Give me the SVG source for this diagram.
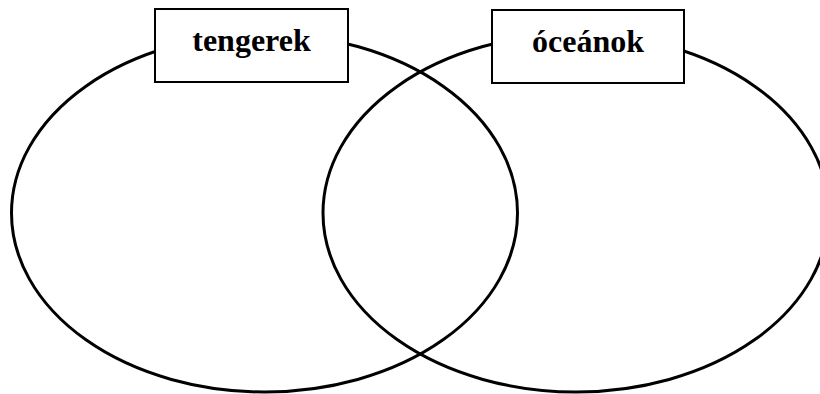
<svg xmlns="http://www.w3.org/2000/svg" width="820" height="394" viewBox="0 0 820 394">
<style>
.ell{fill:none;stroke:#000;stroke-width:3}
.box{fill:#fff;stroke:#000;stroke-width:2}
.lbl{font-family:"Liberation Serif","Times New Roman",serif;font-weight:bold;font-size:32px;fill:#000;text-anchor:middle}
</style>
<rect width="820" height="394" fill="#fff"/>
<g id="connectors"></g>
<g id="ellipse-left"><ellipse class="ell" cx="264.5" cy="213" rx="253" ry="179"/></g>
<g id="ellipse-right"><ellipse class="ell" cx="576" cy="213" rx="253" ry="179"/></g>
<g id="label-tengerek"><rect class="box" x="155" y="9" width="193" height="73"/><text class="lbl" x="251.5" y="51">tengerek</text></g>
<g id="label-oceanok"><rect class="box" x="492" y="10" width="192" height="73"/><text class="lbl" x="588" y="52">óceánok</text></g>
</svg>
